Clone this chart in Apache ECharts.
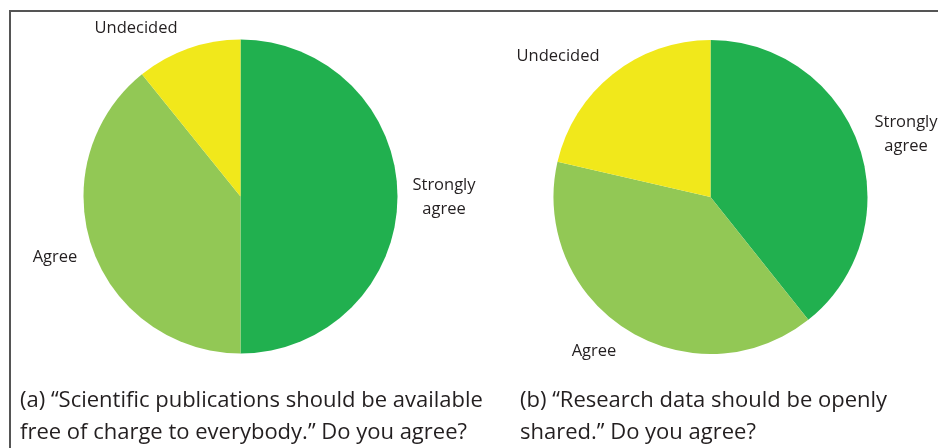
<!DOCTYPE html>
<html>
<head>
<meta charset="utf-8">
<script src="https://cdn.jsdelivr.net/npm/echarts@6/dist/echarts.min.js"></script>
<style>
  html, body { margin: 0; padding: 0; background: #fff; }
  #chart { width: 938px; height: 448px; }
</style>
</head>
<body>
<div id="chart"></div>
<script>
// ---- data ----
var categories   = ["Strongly\nagree", "Agree", "Undecided"];
var pubValues    = [50, 39.2, 10.8];   // (a) publications free of charge
var dataValues   = [39.3, 39.3, 21.4]; // (b) research data openly shared
var captionA     = ["(a) \u201cScientific publications should be available", "free of charge to everybody.\u201d Do you agree?"];
var captionB     = ["(b) \u201cResearch data should be openly", "shared.\u201d Do you agree?"];

var COLORS = ["#21b04f", "#92c855", "#f1e81b"];
var FONT = "'Open Sans', 'Noto Sans', sans-serif";
var TEXT_COLOR = "#231f20";

// label anchor positions (centre of text), per pie / per category
var LABEL_POS = [
  [[444, 197], [55, 257], [136, 28]],
  [[906, 134], [594, 351], [558, 56]]
];

function buildData(values) {
  return values.map(function (v, i) {
    return { name: categories[i], value: v, itemStyle: { color: COLORS[i] } };
  });
}

function pieSeries(values, center) {
  return {
    type: "pie",
    center: center,
    radius: 157,
    startAngle: 90,
    clockwise: true,
    silent: true,
    animation: false,
    data: buildData(values),
    itemStyle: { borderWidth: 0 },
    label: { show: false },
    labelLine: { show: false }
  };
}

// labels + captions as plain text elements
var graphics = [{
  type: "polyline",
  shape: { points: [[10, 460], [10, 11], [950, 11]] },
  style: { stroke: "#555", lineWidth: 2, fill: null }
}];

LABEL_POS.forEach(function (pie) {
  pie.forEach(function (pos, i) {
    graphics.push({
      type: "text",
      style: {
        x: pos[0], y: pos[1], text: categories[i],
        font: "16.5px " + FONT, fill: TEXT_COLOR, lineHeight: 24,
        align: "center", verticalAlign: "middle"
      }
    });
  });
});

[[captionA, 20], [captionB, 520]].forEach(function (c) {
  c[0].forEach(function (line, k) {
    graphics.push({
      type: "text",
      style: {
        x: c[1], y: 401 + k * 32, text: line,
        font: "22px " + FONT, fill: TEXT_COLOR,
        align: "left", verticalAlign: "middle"
      }
    });
  });
});

var chart = echarts.init(document.getElementById("chart"), null, { renderer: "canvas" });

chart.setOption({
  backgroundColor: "#fff",
  animation: false,
  graphic: graphics,
  series: [
    pieSeries(pubValues, [240.5, 196.5]),
    pieSeries(dataValues, [710.5, 197])
  ]
});
</script>
</body>
</html>
